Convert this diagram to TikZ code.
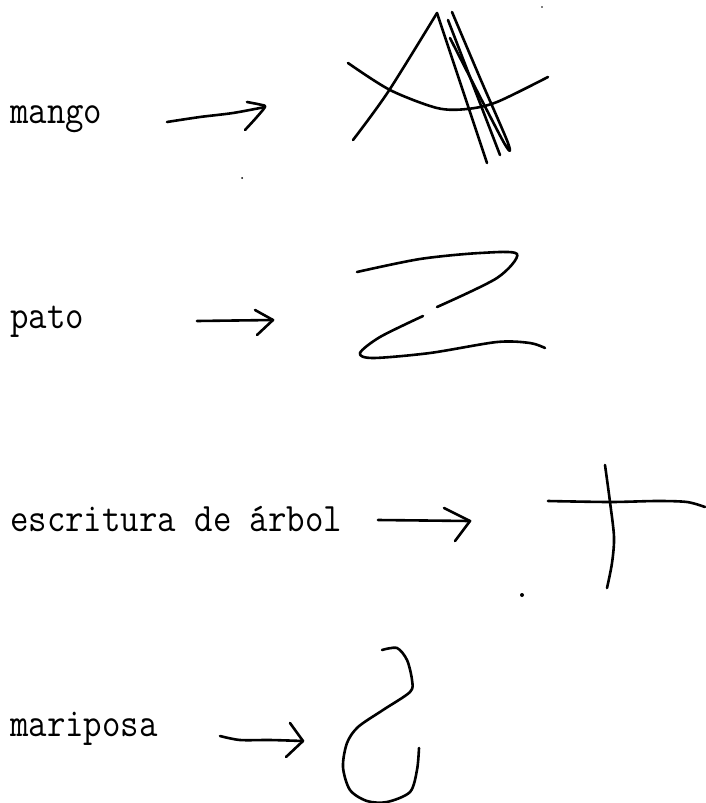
\documentclass[tikz,border=0pt]{standalone}
\usepackage{fontspec}
\usepackage{graphicx}
\setmonofont{Latin Modern Mono}
\begin{document}
\begin{tikzpicture}[x=1pt,y=-1pt,
  ink/.style={line width=2.6pt, line cap=round, line join=round},
  word/.style={anchor=base west, inner sep=0pt, font=\ttfamily\fontsize{35.8}{40}\selectfont},
  speck/.style={fill=black}]
\useasboundingbox (0,0) rectangle (705,803);

% labels
\node[word] (mango) at (10,123) {\scalebox{1}[1.13]{mango}};
\node[word] (pato) at (10,328) {\scalebox{1}[1.13]{pato}};
\node[word] (arbol) at (10,531) {\scalebox{1}[1.13]{escritura de árbol}};
\node[word] (mariposa) at (10,736) {\scalebox{1}[1.13]{mariposa}};

% arrow 1 (mango)
\coordinate (a1t) at (167,122);
\coordinate (a1h) at (265,107);
\draw[ink] plot[smooth] coordinates {(a1t) (200,117) (233,113) (a1h)};
\draw[ink] plot[smooth] coordinates {(247,102) (262,105) (a1h) (256,118) (245,130)};

% arrow 2 (pato)
\coordinate (a2t) at (197,321);
\coordinate (a2h) at (273,320);
\draw[ink] (a2t) -- (a2h);
\draw[ink] (255,310) -- (a2h) -- (257,335);

% arrow 3 (arbol)
\coordinate (a3t) at (378,520);
\coordinate (a3h) at (470,521);
\draw[ink] (a3t) -- (a3h);
\draw[ink] (444,508) -- (a3h) -- (455,541);

% arrow 4 (mariposa)
\coordinate (a4t) at (220,736);
\coordinate (a4h) at (303,741);
\draw[ink] plot[smooth] coordinates {(a4t) (240,740) (270,740) (a4h)};
\draw[ink] (290,723) -- (a4h) -- (286,757);

% drawing A
\draw[ink] plot[smooth] coordinates {(353,140) (388,92) (437,13)};
\draw[ink] (437,13) -- (487,163);
\draw[ink] (448,20) -- (500,155);
\draw[ink] plot[smooth] coordinates {(452,12) (480,78) (508,143) (503,141) (450,38)};
\draw[ink] plot[smooth] coordinates {(348,63) (390,90) (437,108) (467,109) (497,102) (548,77)};

% drawing Z
\draw[ink] plot[smooth] coordinates {(357,272) (420,259) (480,253) (517,254) (497,278) (437,307)};
\draw[ink] plot[smooth] coordinates {(423,316) (380,337) (360,353) (373,358) (430,353) (497,342) (530,343) (545,348)};

% drawing T
\draw[ink] plot[smooth] coordinates {(548,501) (610,502) (657,501) (687,502) (705,507)};
\draw[ink] plot[smooth] coordinates {(605,465) (610,502) (614,537) (612,563) (607,588)};

% drawing S
\draw[ink] plot[smooth] coordinates {(382,650) (397,648) (407,660) (412,680) (410,692) (383,710) (358,727) (347,743) (343,767) (350,790) (367,801) (387,802) (410,792) (417,770) (419,748)};

% specks
\fill[speck] (522,595) circle (2pt);
\fill[speck] (242,178) circle (1pt);
\fill[speck] (542,7) circle (0.8pt);
\end{tikzpicture}
\end{document}
